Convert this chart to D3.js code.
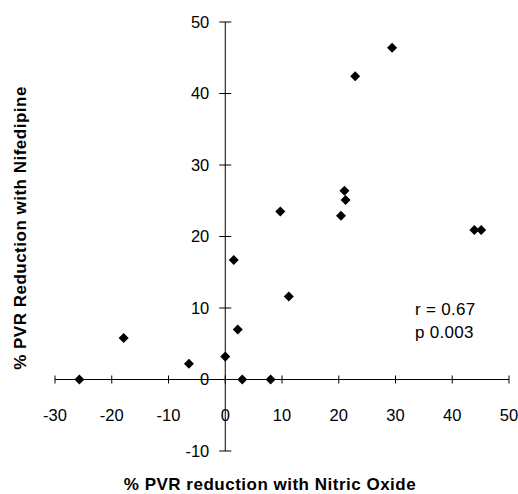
<!DOCTYPE html>
<html>
<head>
<meta charset="utf-8">
<script src="https://cdn.jsdelivr.net/npm/d3@7/dist/d3.min.js"></script>
<style>
  body { margin: 0; background: #fff; }
  text { font-family: 'Liberation Sans', Arial, sans-serif; }
</style>
</head>
<body>
<div id="chart"></div>
<script>
// % PVR reduction with nitric oxide (x) vs nifedipine (y)
const noReduction = [-25.7, -17.9, -6.4, 0, 2.2, 1.5, 3.0, 8.0, 11.2, 9.7, 20.4, 21.0, 21.2, 22.9, 29.4, 43.9, 45.1]
const nifReduction = [0, 5.8, 2.2, 3.2, 7.0, 16.7, 0, 0, 11.6, 23.5, 22.9, 26.4, 25.1, 42.4, 46.4, 20.9, 20.9]
const xTicks = [-30, -20, -10, 0, 10, 20, 30, 40, 50]
const yTicks = [-10, 0, 10, 20, 30, 40, 50]
const stats = ['r = 0.67', 'p 0.003']

const width = 518
const height = 494

const svg = d3.select('#chart')
  .append('svg')
  .attr('width', width)
  .attr('height', height)

const x = d3.scaleLinear().domain([-30, 50]).range([55, 509])
const y = d3.scaleLinear().domain([-10, 50]).range([451, 22])

// x axis through y = 0, ticks crossing the line
const xAxis = svg.append('g')
  .attr('transform', 'translate(0,' + y(0) + ')')
xAxis.append('line')
  .attr('x1', x(-30)).attr('x2', x(50))
  .attr('stroke', '#000').attr('stroke-width', 1)
xAxis.selectAll('.tick')
  .data(xTicks)
  .enter()
  .append('line')
  .attr('x1', d => x(d)).attr('x2', d => x(d))
  .attr('y1', -4).attr('y2', 4)
  .attr('stroke', '#000')
xAxis.selectAll('.lbl')
  .data(xTicks)
  .enter()
  .append('text')
  .attr('x', d => x(d))
  .attr('y', 41)
  .attr('text-anchor', 'middle')
  .style('font-size', '16.5px')
  .text(d => d)

// y axis through x = 0
const yAxis = svg.append('g')
  .attr('transform', 'translate(' + x(0) + ',0)')
yAxis.append('line')
  .attr('y1', y(-10)).attr('y2', y(50))
  .attr('stroke', '#000').attr('stroke-width', 1)
yAxis.selectAll('.tick')
  .data(yTicks)
  .enter()
  .append('line')
  .attr('y1', d => y(d)).attr('y2', d => y(d))
  .attr('x1', -6).attr('x2', 6)
  .attr('stroke', '#000')
yAxis.selectAll('.lbl')
  .data(yTicks)
  .enter()
  .append('text')
  .attr('x', -16)
  .attr('y', d => y(d))
  .attr('dy', '0.36em')
  .attr('text-anchor', 'end')
  .style('font-size', '16.5px')
  .text(d => d)

// points
svg.selectAll('.pt')
  .data(noReduction)
  .enter()
  .append('path')
  .attr('d', d3.symbol().type(d3.symbolDiamond2).size(64))
  .attr('transform', (d, i) => 'translate(' + x(d) + ',' + y(nifReduction[i]) + ')')
  .attr('fill', '#000')

// stats
svg.selectAll('.stat')
  .data(stats)
  .enter()
  .append('text')
  .attr('x', 415)
  .attr('y', (d, i) => 315 + i * 23)
  .style('font-size', '17px')
  .style('letter-spacing', '0.3px')
  .text(d => d)

// axis titles
svg.append('text')
  .attr('x', 270)
  .attr('y', 490)
  .attr('text-anchor', 'middle')
  .style('font-size', '17px')
  .style('font-weight', 'bold')
  .style('letter-spacing', '0.5px')
  .text('% PVR reduction with Nitric Oxide')

svg.append('text')
  .attr('transform', 'translate(26,228) rotate(-90)')
  .attr('text-anchor', 'middle')
  .style('font-size', '17px')
  .style('font-weight', 'bold')
  .style('letter-spacing', '0.5px')
  .text('% PVR Reduction with Nifedipine')
</script>
</body>
</html>
